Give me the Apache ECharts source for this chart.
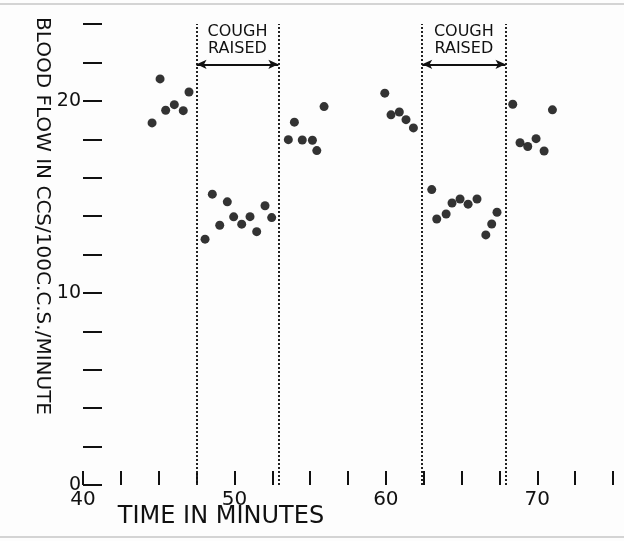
<!DOCTYPE html>
<html><head><meta charset="utf-8">
<script src="https://cdn.jsdelivr.net/npm/echarts@6/dist/echarts.min.js"></script>
<style>html,body{margin:0;padding:0;background:#fdfdfd}#c{width:624px;height:541px}</style>
</head><body><div id="c"></div>
<script>
// ---- data ----
const xTickLabels = [40, 50, 60, 70];
const yTickLabels = [0, 10, 20];
const timeMinutes = [
  44.56, 45.09, 45.46, 46.03, 46.62, 47.00,
  48.06, 48.54, 49.03, 49.53, 49.95, 50.48, 51.03, 51.47, 52.02, 52.46,
  53.56, 53.96, 54.48, 55.15, 55.44, 55.92,
  59.93, 60.34, 60.89, 61.33, 61.82,
  63.03, 63.36, 63.98, 64.37, 64.90, 65.43, 66.02, 66.60, 66.99, 67.34,
  68.38, 68.86, 69.37, 69.92, 70.45, 71.00
];
const bloodFlow = [
  18.85, 21.14, 19.51, 19.80, 19.49, 20.46,
  12.80, 15.14, 13.52, 14.74, 13.96, 13.58, 13.97, 13.19, 14.54, 13.92,
  17.98, 18.89, 17.96, 17.95, 17.41, 19.70,
  20.40, 19.27, 19.42, 19.02, 18.59,
  15.38, 13.85, 14.11, 14.68, 14.89, 14.62, 14.89, 13.02, 13.59, 14.20,
  19.82, 17.82, 17.62, 18.03, 17.39, 19.53
];
const coughStart = [47.5, 62.4];
const coughEnd = [52.9, 67.9];
const coughText = 'COUGH\nRAISED';
const arrowLevel = 21.9;
const yTitle = 'BLOOD FLOW IN CCS/100C.C.S./MINUTE';
const xTitle = 'TIME IN MINUTES';

// ---- chart ----
const ink = '#111';
const font = 'DejaVu Sans';
const points = timeMinutes.map((t, i) => [t, bloodFlow[i]]);

const markData = [];
coughStart.forEach((s, i) => {
  const e = coughEnd[i];
  markData.push([{coord: [s, 0], symbol: 'none'}, {coord: [s, 24], symbol: 'none'}]);
  markData.push([{coord: [e, 0], symbol: 'none'}, {coord: [e, 24], symbol: 'none'}]);
  markData.push([
    {coord: [s, arrowLevel], symbol: 'arrow', symbolSize: [7, 10],
     lineStyle: {type: 'solid', width: 2, color: ink},
     label: {show: true, position: 'middle', formatter: coughText, distance: 7,
             fontSize: 16, lineHeight: 17, color: ink, fontFamily: font}},
    {coord: [e, arrowLevel], symbol: 'arrow', symbolSize: [7, 10]}
  ]);
});

const chart = echarts.init(document.getElementById('c'));
chart.setOption({
  backgroundColor: '#fdfdfd',
  animation: false,
  grid: {left: 83, right: 11, top: 24, bottom: 56, containLabel: false},
  xAxis: {
    type: 'value', min: 40, max: 75, interval: 2.5,
    axisLine: {show: false},
    splitLine: {show: false},
    axisTick: {show: true, inside: true, length: 14, lineStyle: {color: ink, width: 2}},
    axisLabel: {
      margin: 5, fontSize: 20, color: ink, fontFamily: font,
      formatter: v => xTickLabels.includes(v) ? String(v) : ''
    }
  },
  yAxis: {
    type: 'value', min: 0, max: 24, interval: 2,
    axisLine: {show: false},
    splitLine: {show: false},
    axisTick: {show: true, inside: true, length: 19, lineStyle: {color: ink, width: 2}},
    axisLabel: {
      margin: 2, fontSize: 19, color: ink, fontFamily: font,
      formatter: v => yTickLabels.includes(v) ? String(v) : ''
    }
  },
  graphic: [
    {type: 'text', x: 42, y: 216, rotation: -Math.PI / 2,
     style: {text: yTitle, fontSize: 20, fontFamily: font, fill: ink,
             align: 'center', verticalAlign: 'middle'}},
    {type: 'text', x: 221, y: 517,
     style: {text: xTitle, fontSize: 24, fontFamily: font, fill: ink,
             align: 'center', verticalAlign: 'middle'}},
    {type: 'rect', shape: {x: 0, y: 3, width: 624, height: 2}, style: {fill: '#d4d4d4'}},
    {type: 'rect', shape: {x: 0, y: 536, width: 624, height: 2}, style: {fill: '#d4d4d4'}}
  ],
  series: [{
    type: 'scatter',
    data: points,
    symbolSize: 9,
    itemStyle: {color: '#000'},
    silent: true,
    markLine: {
      silent: true,
      symbol: ['none', 'none'],
      lineStyle: {type: 'dotted', width: 2, color: '#222'},
      label: {show: false},
      emphasis: {disabled: true},
      data: markData
    }
  }]
});
</script></body></html>
